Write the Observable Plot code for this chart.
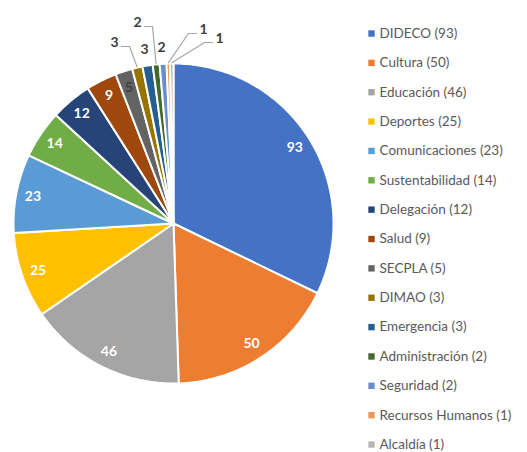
<!DOCTYPE html>
<html>
<head>
<meta charset="utf-8">
<script src="https://cdn.jsdelivr.net/npm/d3@7"></script>
<script src="https://cdn.jsdelivr.net/npm/@observablehq/plot@0.6"></script>
<style>
  html, body { margin: 0; padding: 0; background: #fff; }
  #chart svg { display: block; }
</style>
</head>
<body>
<div id="chart"></div>
<script>
// ---- data ----
const names = ["DIDECO", "Cultura", "Educación", "Deportes", "Comunicaciones", "Sustentabilidad",
  "Delegación", "Salud", "SECPLA", "DIMAO", "Emergencia", "Administración", "Seguridad",
  "Recursos Humanos", "Alcaldía"];
const values = [93, 50, 46, 25, 23, 14, 12, 9, 5, 3, 3, 2, 2, 1, 1];
const colors = ["#4472C4", "#ED7D31", "#A5A5A5", "#FFC000", "#5B9BD5", "#70AD47",
  "#264478", "#9E480E", "#636363", "#997300", "#255E91", "#43682B", "#698ED0",
  "#F1975A", "#B7B7B7"];

// ---- layout (pixels) ----
const W = 527, H = 452;
const cx = 173, cy = 223, R = 160;
const px2x = px => (px - cx) / R;
const px2y = py => (py - cy) / R;
// outside label positions for small slices (pixel), and whether leader line drawn
const outside = {
  "DIMAO": {x: 114, y: 42, leader: true},
  "Emergencia": {x: 144, y: 49, leader: false},
  "Administración": {x: 137, y: 22, leader: true},
  "Seguridad": {x: 161, y: 47, leader: false},
  "Recursos Humanos": {x: 203, y: 29, leader: true},
  "Alcaldía": {x: 219, y: 38, leader: true}
};
const legendX = 371, legendTop = 33, legendStep = 29.36;

// ---- derived ----
const data = names.map((n, i) => ({name: n, value: values[i], color: colors[i]}));
const arcs = d3.pie().sort(null).value(d => d.value)(data);

const slicePts = [];
for (const a of arcs) {
  slicePts.push({name: a.data.name, x: 0, y: 0});
  const n = Math.max(2, Math.ceil((a.endAngle - a.startAngle) / (Math.PI / 180)));
  for (let k = 0; k <= n; k++) {
    const t = a.startAngle + (a.endAngle - a.startAngle) * k / n;
    slicePts.push({name: a.data.name, x: Math.sin(t), y: -Math.cos(t)});
  }
  slicePts.push({name: a.data.name, x: 0, y: 0});
}

const inside = arcs.filter(a => !outside[a.data.name]).map(a => {
  const m = (a.startAngle + a.endAngle) / 2;
  return {name: a.data.name, label: String(a.data.value), x: 0.895 * Math.sin(m), y: -0.895 * Math.cos(m)};
});

const outLabels = [];
const leaders = [];
for (const a of arcs) {
  const o = outside[a.data.name];
  if (!o) continue;
  outLabels.push({label: String(a.data.value), x: px2x(o.x), y: px2y(o.y)});
  if (o.leader) {
    const m = (a.startAngle + a.endAngle) / 2;
    const ax = 1.005 * Math.sin(m), ay = -1.005 * Math.cos(m);
    const side = px2x(o.x) < ax ? 1 : -1;
    const ex = o.x + side * 7, ey = o.y + 4;
    const bx = ex + side * 8;
    leaders.push({id: a.data.name, x: px2x(ex), y: px2y(ey)});
    leaders.push({id: a.data.name, x: px2x(bx), y: px2y(ey)});
    leaders.push({id: a.data.name, x: ax, y: ay});
  }
}

const legend = data.map((d, i) => ({
  name: d.name,
  label: `${d.name} (${d.value})`,
  x: px2x(legendX),
  y: px2y(legendTop + i * legendStep)
}));

const chart = Plot.plot({
  width: W, height: H,
  margin: 0,
  x: {domain: [-1, 1], range: [cx - R, cx + R], axis: null},
  y: {domain: [-1, 1], range: [cy - R, cy + R], axis: null},
  color: {domain: names, range: colors},
  style: {fontFamily: "Lato, 'Open Sans', sans-serif", background: "#fff"},
  marks: [
    Plot.line(slicePts, {x: "x", y: "y", z: "name", fill: "name", stroke: "white", strokeWidth: 2, strokeLinejoin: "round", curve: "linear"}),
    Plot.text(inside, {x: "x", y: "y", text: "label", fill: d => d.name === "SECPLA" ? "#404040" : "white", fontWeight: "bold", fontSize: 14}),
    Plot.line(leaders, {x: "x", y: "y", z: "id", stroke: "#A6A6A6", strokeWidth: 1.2}),
    Plot.text(outLabels, {x: "x", y: "y", text: "label", fill: "#404040", fontWeight: "bold", fontSize: 14}),
    Plot.dot(legend, {x: "x", y: "y", symbol: "square", r: 3.6, fill: "name", stroke: null}),
    Plot.text(legend, {x: "x", y: "y", text: "label", textAnchor: "start", dx: 8, fill: "#595959", fontSize: 13.5})
  ]
});
document.getElementById("chart").appendChild(chart);
</script>
</body>
</html>
